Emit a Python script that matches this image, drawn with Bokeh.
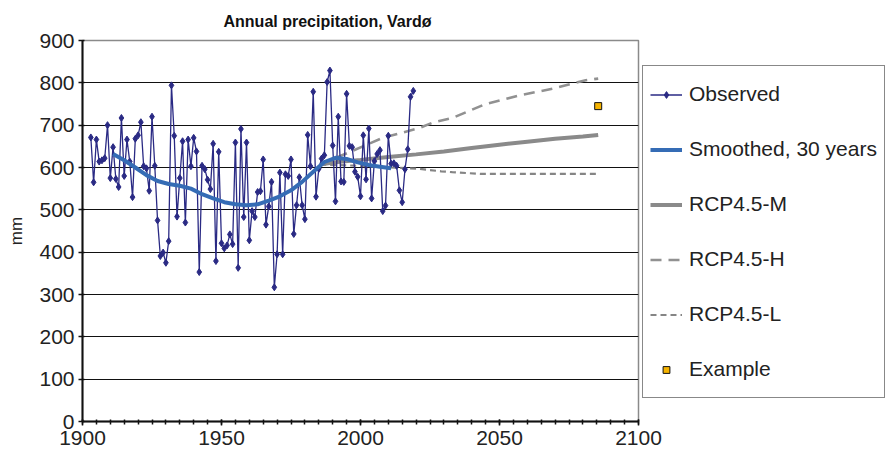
from bokeh.plotting import figure
from bokeh.models import Range1d, FixedTicker, Legend, LegendItem
from bokeh.embed import file_html
from bokeh.resources import INLINE

# Observed annual precipitation (mm), one value per year
obs_years = list(range(1903, 2020))
obs_mm = [
    671, 565, 666, 614, 617, 622, 700, 575, 648, 573,
    554, 717, 580, 666, 614, 530, 668, 676, 707, 603,
    598, 545, 720, 604, 475, 391, 399, 375, 426, 794,
    675, 484, 575, 662, 470, 666, 603, 670, 638, 353,
    604, 596, 571, 549, 656, 379, 637, 421, 409, 416,
    442, 419, 659, 363, 691, 483, 659, 428, 497, 483,
    542, 544, 619, 465, 508, 566, 317, 395, 588, 395,
    584, 580, 619, 443, 511, 577, 511, 478, 677, 603,
    779, 531, 597, 621, 629, 802, 829, 652, 520, 720,
    567, 566, 774, 651, 648, 590, 578, 532, 676, 572,
    692, 527, 615, 632, 641, 497, 510, 675, 609, 610,
    604, 546, 518, 596, 643, 767, 781,
]

# 30-year smoothed curve
smooth_years = [1911, 1915, 1919, 1923, 1927, 1931, 1935, 1939, 1943, 1947,
                1951, 1955, 1959, 1963, 1967, 1971, 1975, 1979, 1983, 1987,
                1991, 1995, 1999, 2003, 2007, 2011]
smooth_mm = [632, 617, 600, 582, 568, 561, 557, 550, 537, 527,
             518, 513, 511, 513, 522, 532, 546, 566, 590, 613,
             623, 620, 612, 606, 602, 598]

# RCP4.5 projections (median, high, low)
rcp_m_years = [1985.5, 1990, 2000, 2010, 2020, 2030, 2040, 2050, 2060, 2070, 2080, 2085.5]
rcp_m_mm = [607, 612, 618, 625, 631, 638, 646, 654, 661, 668, 673, 677]
rcp_h_years = [1985.5, 1990, 1997, 2008, 2021, 2026, 2033, 2045, 2057, 2069, 2081, 2085.5]
rcp_h_mm = [607, 620, 639, 670, 693, 706, 717, 750, 770, 786, 806, 810]
rcp_l_years = [1985.5, 2000, 2014, 2021, 2029, 2033, 2043, 2085.5]
rcp_l_mm = [607, 604, 599, 597, 591, 589, 585, 585]

example_years = [2085.5]
example_mm = [745]

x_ticks = [1900, 1950, 2000, 2050, 2100]
y_ticks = [0, 100, 200, 300, 400, 500, 600, 700, 800, 900]

FONT = "Liberation Sans"

p = figure(
    frame_width=556, frame_height=381,
    x_range=Range1d(1900, 2100), y_range=Range1d(0, 900),
    output_backend="svg", toolbar_location=None,
    min_border_left=82, min_border_right=250,
    min_border_top=40, min_border_bottom=36,
    background_fill_color="white", border_fill_color="white",
)

p.title.text = "Annual precipitation, Vardø"
p.title.text_font = FONT
p.title.text_font_style = "bold"
p.title.text_font_size = "16px"
p.title.text_color = "#111111"
p.title.align = "left"
p.title.offset = 141
p.title.standoff = 21

p.outline_line_color = "#8a8a8a"
p.outline_line_width = 1.5

# axes
p.xaxis.ticker = FixedTicker(ticks=x_ticks, minor_ticks=list(range(1900, 2101, 5)))
p.yaxis.ticker = FixedTicker(ticks=y_ticks, minor_ticks=[])
for ax in (p.xaxis[0], p.yaxis[0]):
    ax.axis_line_color = "#111111"
    ax.axis_line_width = 2
    ax.major_tick_line_color = "#111111"
    ax.minor_tick_line_color = "#111111"
    ax.major_tick_line_width = 1.5
    ax.minor_tick_line_width = 1.5
    ax.major_tick_in = 2
    ax.major_tick_out = 4
    ax.minor_tick_in = 2
    ax.minor_tick_out = 3
    ax.major_label_text_font = FONT
    ax.major_label_text_font_size = "21px"
    ax.major_label_text_color = "#222222"
p.xaxis.major_label_standoff = 5
p.yaxis.major_label_standoff = 4
p.yaxis.axis_label = "mm"
p.yaxis.axis_label_text_font = FONT
p.yaxis.axis_label_text_font_style = "normal"
p.yaxis.axis_label_text_font_size = "17px"
p.yaxis.axis_label_text_color = "#222222"
p.yaxis.axis_label_standoff = 10

p.xgrid.visible = False
p.ygrid.ticker = FixedTicker(ticks=y_ticks)
p.ygrid.grid_line_color = "#111111"
p.ygrid.grid_line_width = 1.2

# projections
r_m = p.line(rcp_m_years, rcp_m_mm, line_color="#8a8a8a", line_width=4)
r_h = p.line(rcp_h_years, rcp_h_mm, line_color="#919191", line_width=2.6, line_dash="11 7")
r_l = p.line(rcp_l_years, rcp_l_mm, line_color="#858585", line_width=2.2, line_dash="6 4")

# observations
obs_line = p.line(obs_years, obs_mm, line_color="#2a2a84", line_width=1.3)
obs_pts = p.scatter(obs_years, obs_mm, marker="diamond", size=7,
                    fill_color="#2a2a84", line_color="#2a2a84")

# smoothed curve
r_s = p.line(smooth_years, smooth_mm, line_color="#356cb5", line_width=4)

# example value
r_ex = p.scatter(example_years, example_mm, marker="square", size=7,
                 fill_color="#f5b300", line_color="#111111", line_width=1)

legend = Legend(
    items=[
        LegendItem(label="Observed", renderers=[obs_line, obs_pts]),
        LegendItem(label="Smoothed, 30 years", renderers=[r_s]),
        LegendItem(label="RCP4.5-M", renderers=[r_m]),
        LegendItem(label="RCP4.5-H", renderers=[r_h]),
        LegendItem(label="RCP4.5-L", renderers=[r_l]),
        LegendItem(label="Example", renderers=[r_ex]),
    ],
    location=(4, 23),
    orientation="vertical",
    label_text_font=FONT,
    label_text_font_size="21px",
    label_text_color="#222222",
    glyph_width=32,
    glyph_height=17,
    label_height=42,
    label_standoff=7,
    spacing=13,
    padding=7,
    margin=0,
    border_line_color="#111111",
    border_line_width=1.2,
    background_fill_color="white",
    background_fill_alpha=1,
)
p.add_layout(legend, "right")

open("out.html", "w").write(file_html(p, INLINE))
